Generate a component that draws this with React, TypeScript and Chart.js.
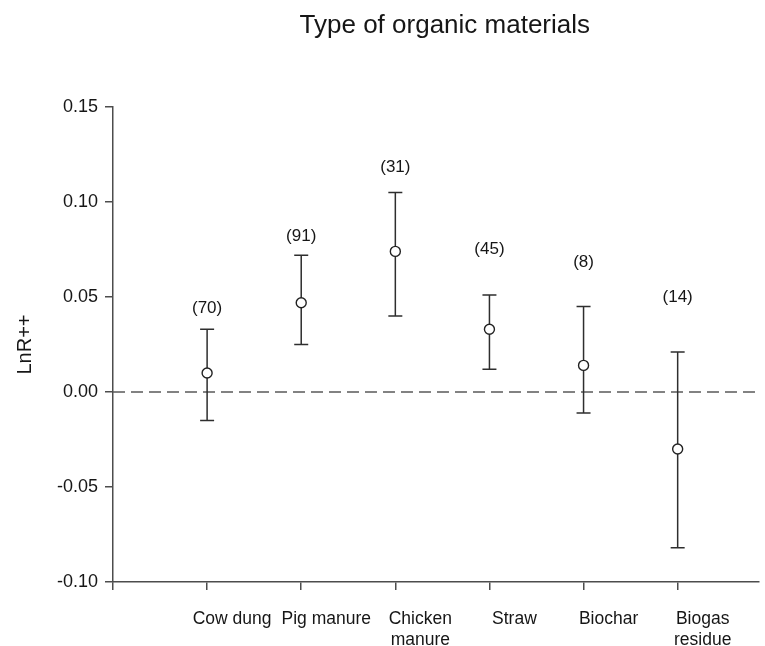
import React, { useEffect, useRef } from 'react';
import { Chart, registerables } from 'chart.js';

Chart.register(...registerables);

// ---- data ----
const chartTitle = 'Type of organic materials';
const categories = ['Cow dung', 'Pig manure', 'Chicken\nmanure', 'Straw', 'Biochar', 'Biogas\nresidue'];
const means = [0.010, 0.047, 0.074, 0.033, 0.014, -0.030];
const upper = [0.033, 0.072, 0.105, 0.051, 0.045, 0.021];
const lower = [-0.015, 0.025, 0.040, 0.012, -0.011, -0.082];
const counts = [70, 91, 31, 45, 8, 14];
const countLabelY = [0.044, 0.082, 0.118, 0.075, 0.068, 0.050];
const yTicks = [-0.1, -0.05, 0, 0.05, 0.1, 0.15];

const FONT = "'Liberation Sans', Arial, Helvetica, sans-serif";
const AXIS = '#4d4d4d';
const TEXT = '#161616';

export default function App() {
  const ref = useRef<HTMLCanvasElement>(null);

  useEffect(() => {
    const canvas = ref.current;
    if (!canvas) return;

    const errorBars = {
      id: 'errorBars',
      beforeDatasetsDraw(chart: any) {
        const { ctx, chartArea, scales } = chart;
        const xs = scales.x;
        const ys = scales.y;
        ctx.save();
        // zero reference line
        const y0 = ys.getPixelForValue(0);
        ctx.strokeStyle = '#5a5a5a';
        ctx.lineWidth = 1.6;
        ctx.setLineDash([12, 6]);
        ctx.beginPath();
        ctx.moveTo(chartArea.left, y0);
        ctx.lineTo(chartArea.right, y0);
        ctx.stroke();
        // error bars
        ctx.setLineDash([]);
        ctx.strokeStyle = '#2e2e2e';
        ctx.lineWidth = 1.5;
        for (let i = 0; i < means.length; i++) {
          const px = xs.getPixelForValue(i + 1);
          const pt = ys.getPixelForValue(upper[i]);
          const pb = ys.getPixelForValue(lower[i]);
          ctx.beginPath();
          ctx.moveTo(px, pt);
          ctx.lineTo(px, pb);
          ctx.moveTo(px - 7, pt);
          ctx.lineTo(px + 7, pt);
          ctx.moveTo(px - 7, pb);
          ctx.lineTo(px + 7, pb);
          ctx.stroke();
        }
        ctx.restore();
      },
      afterDatasetsDraw(chart: any) {
        const { ctx, scales, chartArea } = chart;
        const xs = scales.x;
        const ys = scales.y;
        ctx.save();
        ctx.fillStyle = TEXT;
        ctx.font = `17px ${FONT}`;
        ctx.textAlign = 'center';
        ctx.textBaseline = 'middle';
        for (let i = 0; i < counts.length; i++) {
          ctx.fillText(`(${counts[i]})`, xs.getPixelForValue(i + 1), ys.getPixelForValue(countLabelY[i]));
        }
        // chart title, centred over the plot area
        ctx.font = `26px ${FONT}`;
        ctx.textBaseline = 'alphabetic';
        ctx.fillText(chartTitle, (chartArea.left + chartArea.right) / 2 + 9, 33);
        ctx.restore();
      },
    };

    const chart = new Chart(canvas, {
      type: 'scatter',
      data: {
        datasets: [
          {
            label: 'LnR++',
            data: means.map((m, i) => ({ x: i + 1, y: m })),
            pointRadius: 5,
            pointHoverRadius: 5,
            pointBackgroundColor: '#ffffff',
            pointBorderColor: '#222222',
            pointBorderWidth: 1.4,
            showLine: false,
          },
        ],
      },
      options: {
        responsive: false,
        devicePixelRatio: 1,
        animation: false,
        layout: { padding: { top: 107, left: 0, right: 0, bottom: 0 } },
        plugins: {
          legend: { display: false },
          tooltip: { enabled: false },
          title: { display: false },
        },
        scales: {
          x: {
            type: 'linear',
            position: 'bottom',
            min: 0,
            max: 6.86,
            afterBuildTicks: (scale: any) => {
              scale.ticks = [0, ...categories.map((_, i) => i + 1)].map((v) => ({ value: v }));
            },
            afterFit: (scale: any) => {
              scale.height = 64;
            },
            ticks: {
              autoSkip: false,
              maxRotation: 0,
              minRotation: 0,
              labelOffset: 25,
              padding: 19,
              color: TEXT,
              font: { family: FONT, size: 17.5 },
              callback: (v: any) => {
                const n = Number(v);
                if (n < 1 || n > categories.length) return '';
                return categories[n - 1].split('\n');
              },
            },
            grid: {
              display: true,
              drawOnChartArea: false,
              drawTicks: true,
              tickLength: 8,
              color: AXIS,
              lineWidth: 1.5,
            },
            border: { display: true, color: AXIS, width: 1.5 },
          },
          y: {
            type: 'linear',
            position: 'left',
            min: -0.1,
            max: 0.15,
            afterBuildTicks: (scale: any) => {
              scale.ticks = yTicks.map((v) => ({ value: v }));
            },
            afterFit: (scale: any) => {
              scale.width = 113;
            },
            ticks: {
              padding: 7,
              color: TEXT,
              font: { family: FONT, size: 18 },
              callback: (v: any) => Number(v).toFixed(2),
            },
            grid: {
              display: true,
              drawOnChartArea: false,
              drawTicks: true,
              tickLength: 8,
              color: AXIS,
              lineWidth: 1.5,
            },
            border: { display: true, color: AXIS, width: 1.5 },
            title: {
              display: true,
              text: 'LnR++',
              color: TEXT,
              font: { family: FONT, size: 20 },
              padding: { top: 13, bottom: 0 },
            },
          },
        },
      },
      plugins: [errorBars],
    } as any);

    return () => chart.destroy();
  }, []);

  return (
    <div style={{ position: 'absolute', left: 0, top: 0, width: 765, height: 646, background: '#ffffff' }}>
      <canvas ref={ref} width={765} height={646} style={{ display: 'block' }} />
    </div>
  );
}
